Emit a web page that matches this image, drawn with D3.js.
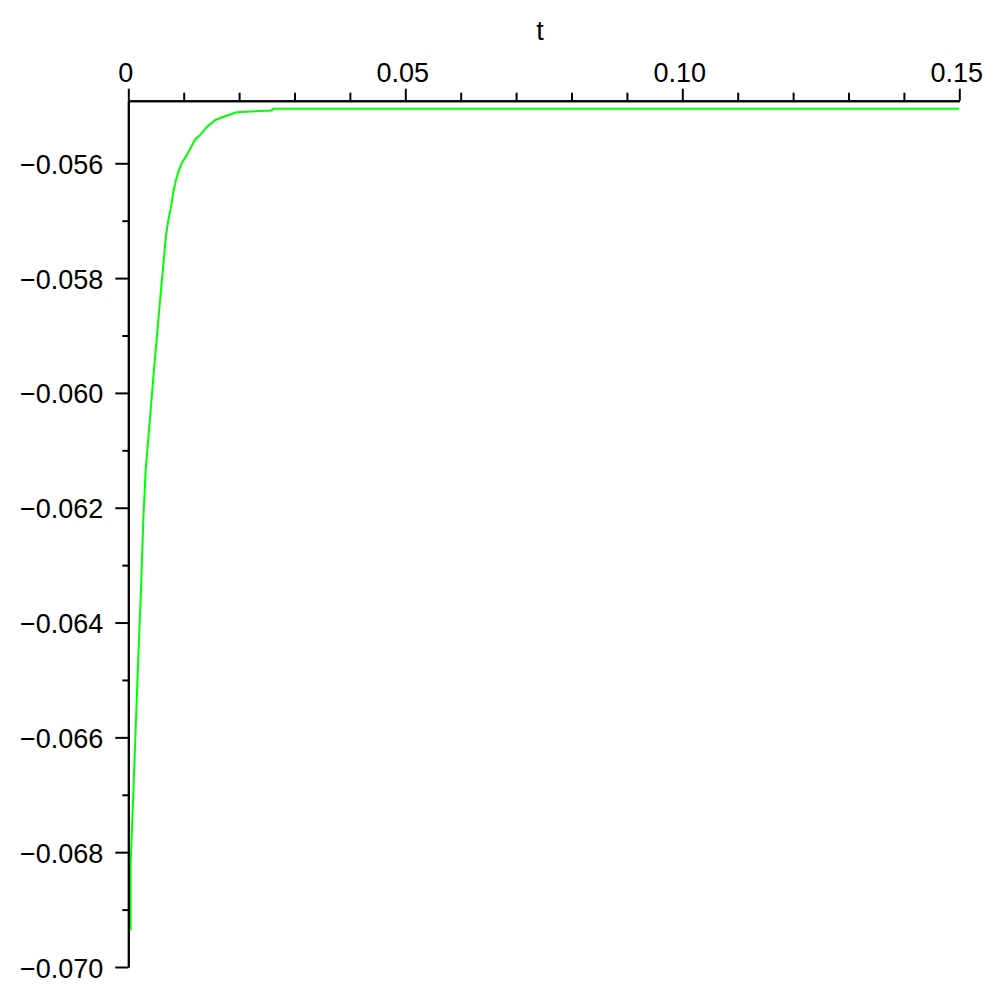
<!DOCTYPE html>
<html>
<head>
<meta charset="utf-8">
<script src="https://cdn.jsdelivr.net/npm/d3@7"></script>
<style>
  html, body { margin: 0; padding: 0; background: #fff; }
  svg { display: block; }
  text { font-family: "Liberation Sans", Arial, sans-serif; fill: #000; }
</style>
</head>
<body>
<svg id="chart" width="1000" height="1000"></svg>
<script>
// ---- data ----
const tValues = [0.00043, 0.00043, 0.00090, 0.00134, 0.00181, 0.00229, 0.00271, 0.00314, 0.00361, 0.00404,
                 0.00451, 0.00495, 0.00542, 0.00590, 0.00632, 0.00681, 0.00722, 0.00771, 0.00812, 0.00861,
                 0.00903, 0.00964, 0.01054, 0.01132, 0.01204, 0.01294, 0.01415, 0.01565, 0.01745, 0.01957,
                 0.02588, 0.02617, 0.15];
const yValues = [-0.06936, -0.06817, -0.06699, -0.06582, -0.06460, -0.06343, -0.06220, -0.06134, -0.06080, -0.06030,
                 -0.05974, -0.05925, -0.05873, -0.05821, -0.05777, -0.05725, -0.05699, -0.05676, -0.05650, -0.05629,
                 -0.05615, -0.05600, -0.05586, -0.05572, -0.05559, -0.05551, -0.05537, -0.05525, -0.05518, -0.05511,
                 -0.05508, -0.05505, -0.05505];
const xMajorTicks = [0, 0.05, 0.10, 0.15];
const xMajorLabels = ["0", "0.05", "0.10", "0.15"];
const xMinorTicks = [0.01, 0.02, 0.03, 0.04, 0.06, 0.07, 0.08, 0.09, 0.11, 0.12, 0.13, 0.14];
const yMajorTicks = [-0.056, -0.058, -0.060, -0.062, -0.064, -0.066, -0.068, -0.070];
const yMajorLabels = ["\u22120.056", "\u22120.058", "\u22120.060", "\u22120.062", "\u22120.064", "\u22120.066", "\u22120.068", "\u22120.070"];
const yMinorTicks = [-0.057, -0.059, -0.061, -0.063, -0.065, -0.067, -0.069];
const xAxisLabel = "t";
const xDomain = [0, 0.15];
const yDomain = [-0.070, -0.05491];

// ---- layout ----
const svg = d3.select("#chart");
const plotLeft = 128.3, plotRight = 959.3, plotTop = 100.7, plotBottom = 967;

const x = d3.scaleLinear().domain(xDomain).range([plotLeft, plotRight]);
const y = d3.scaleLinear().domain(yDomain).range([plotBottom, plotTop]);

svg.append("rect").attr("width", 1000).attr("height", 1000).attr("fill", "#fff");

// curve
const line = d3.line()
  .x((d, i) => x(tValues[i]))
  .y((d, i) => y(yValues[i]));
svg.append("path")
  .datum(tValues)
  .attr("d", line)
  .attr("fill", "none")
  .attr("stroke", "#00ff00")
  .attr("stroke-width", 2);

// x axis (at top of plot)
const xMajor = svg.append("g").attr("transform", `translate(0,${plotTop})`)
  .call(d3.axisTop(x).tickValues(xMajorTicks).tickSize(12).tickSizeOuter(0)
    .tickFormat((d, i) => xMajorLabels[i]));
const xMinor = svg.append("g").attr("transform", `translate(0,${plotTop})`)
  .call(d3.axisTop(x).tickValues(xMinorTicks).tickSize(8).tickSizeOuter(0).tickFormat(""));

// y axis
const yMajor = svg.append("g").attr("transform", `translate(${plotLeft},0)`)
  .call(d3.axisLeft(y).tickValues(yMajorTicks).tickSize(13).tickSizeOuter(0)
    .tickFormat((d, i) => yMajorLabels[i]));
const yMinor = svg.append("g").attr("transform", `translate(${plotLeft},0)`)
  .call(d3.axisLeft(y).tickValues(yMinorTicks).tickSize(6).tickSizeOuter(0).tickFormat(""));

svg.selectAll(".domain").attr("stroke", "#000").attr("stroke-width", 2);
svg.selectAll(".tick line").attr("stroke", "#000").attr("stroke-width", 2);
svg.selectAll(".tick text")
  .attr("font-family", "'Liberation Sans', Arial, sans-serif")
  .attr("font-size", 27)
  .attr("fill", "#000");

xMajor.selectAll(".tick text").attr("y", -19).attr("dy", 0).attr("dx", -3);
yMajor.selectAll(".tick text").attr("x", -25).attr("dy", 10);

// x axis title
svg.append("text")
  .attr("x", 540)
  .attr("y", 40)
  .attr("text-anchor", "middle")
  .attr("font-size", 27)
  .text(xAxisLabel);
</script>
</body>
</html>
